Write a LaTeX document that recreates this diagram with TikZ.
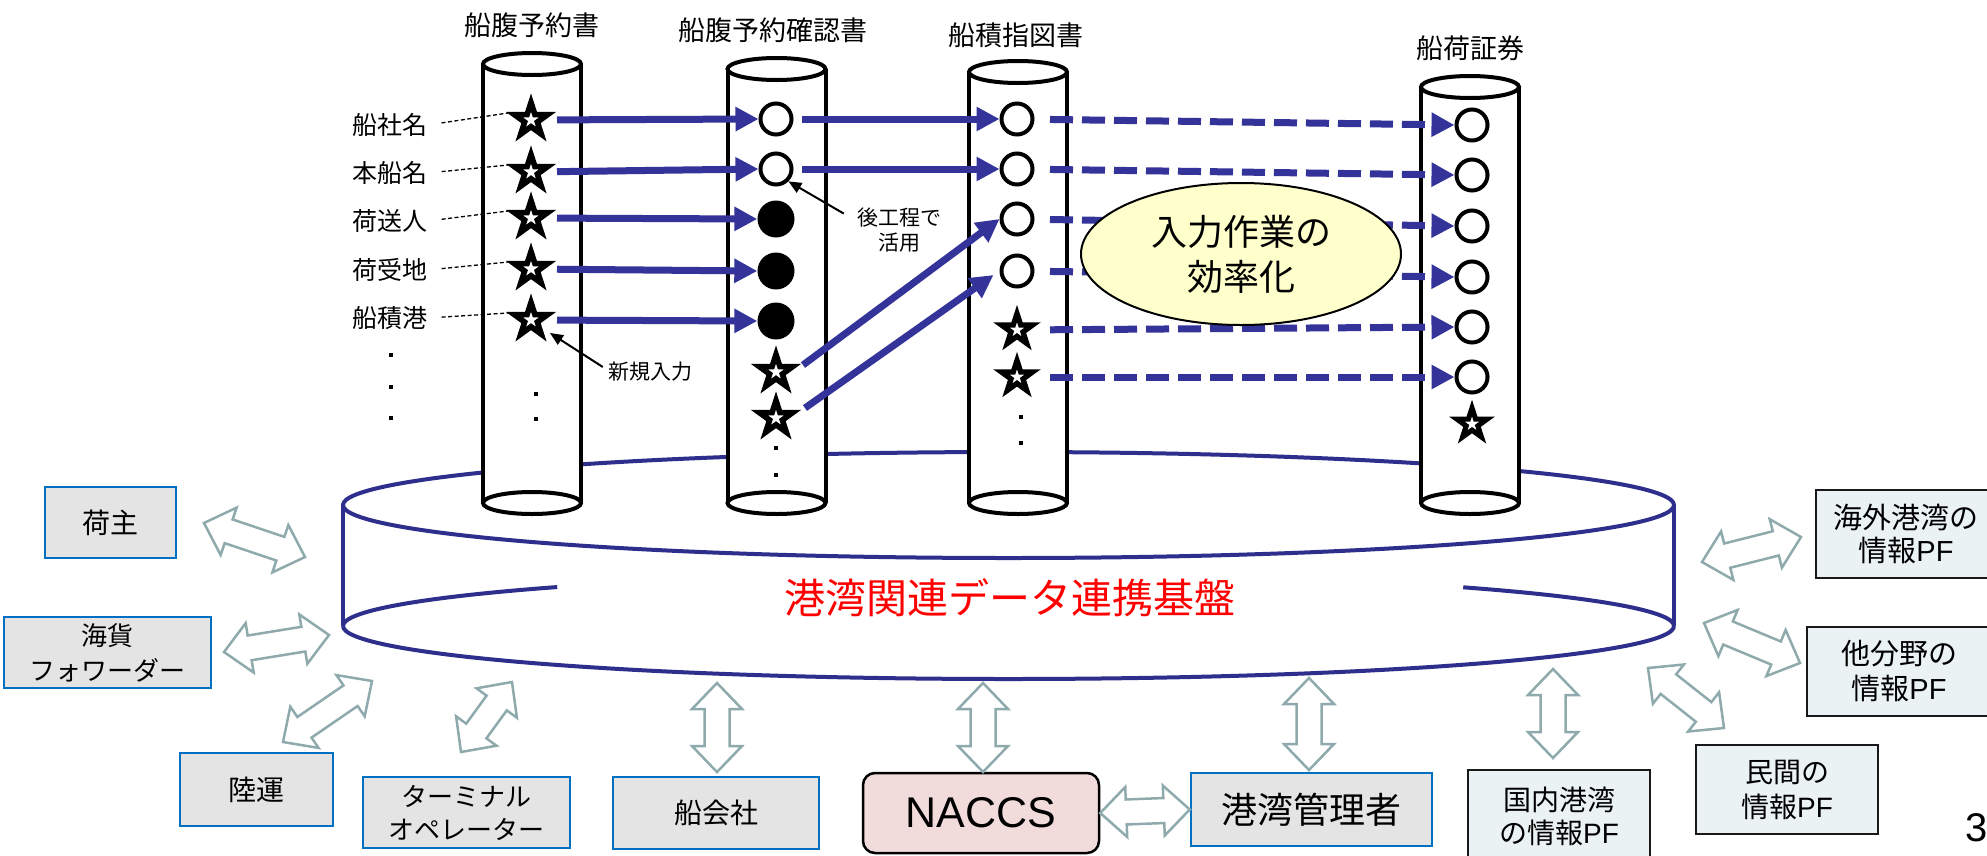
\documentclass[tikz,border=0pt]{standalone}
\usepackage{fontspec}
\setmainfont{Noto Sans CJK JP}
\newfontfamily\lat{Liberation Sans}
\usetikzlibrary{shapes.geometric,arrows.meta,calc}
\definecolor{navy}{RGB}{51,51,153}
\definecolor{plat}{RGB}{46,46,140}
\definecolor{boxgray}{RGB}{228,228,228}
\definecolor{boxblue}{RGB}{0,112,192}
\definecolor{pfbg}{RGB}{235,242,243}
\definecolor{naccsbg}{RGB}{242,220,219}
\definecolor{arrgray}{RGB}{143,170,172}
\definecolor{effbg}{RGB}{255,255,204}
\newcommand{\fs}[2]{\fontsize{#1}{#2}\selectfont}
\newcommand{\tube}[2]{%
  \fill[white] (#1-49,#2) rectangle (#1+49,503);
  \fill[white] (#1,#2) ellipse[x radius=49,y radius=11];
  \fill[white] (#1,503) ellipse[x radius=49,y radius=11];
  \draw[tubeline] (#1-49,#2) -- (#1-49,503) (#1+49,#2) -- (#1+49,503);
  \draw[tubeline] (#1,#2) ellipse[x radius=49,y radius=11];
  \draw[tubeline] (#1,503) ellipse[x radius=49,y radius=11];
}
% star: name, x, y, path radius, line width
\newcommand{\starat}[5]{%
  \node[circle, inner sep=0pt, minimum size=50pt] (#1) at (#2,#3) {};
  \draw[draw=black, fill=white, line width=#5pt, line join=miter, miter limit=10]
    (#2,#3) +(270:#4) -- +(306:0.382*#4) -- +(342:#4) -- +(18:0.382*#4)
    -- +(54:#4) -- +(90:0.382*#4) -- +(126:#4) -- +(162:0.382*#4)
    -- +(198:#4) -- +(234:0.382*#4) -- cycle;
}
\newcommand{\blockarrow}[2]{%
  \coordinate (bp) at ($(#1)!26pt!(#2)$);
  \coordinate (bq) at ($(#2)!26pt!(#1)$);
  \draw[blockarr] (#1) -- ($(bp)!25pt!90:(#2)$) -- ($(bp)!12.5pt!90:(#2)$)
    -- ($(bq)!12.5pt!-90:(#1)$) -- ($(bq)!25pt!-90:(#1)$) -- (#2)
    -- ($(bq)!25pt!90:(#1)$) -- ($(bq)!12.5pt!90:(#1)$)
    -- ($(bp)!12.5pt!-90:(#2)$) -- ($(bp)!25pt!-90:(#2)$) -- cycle;
}
\newcommand{\dotsq}[2]{\fill[black] (#1-2.2,#2-2.2) rectangle (#1+2.2,#2+2.2);}
\begin{document}
\begin{tikzpicture}[x=1pt,y=-1pt,
  tubeline/.style={line width=4pt, draw=black},
  platline/.style={line width=4pt, draw=plat},
  ocirc/.style={circle, draw=black, fill=white, line width=4pt, minimum size=31pt, inner sep=0pt},
  fcirc/.style={circle, fill=black, minimum size=37pt, inner sep=0pt},
  lab/.style={inner sep=0pt, font=\fs{25}{30}},
  ttl/.style={inner sep=0pt, font=\fs{27}{32}},
  barrow/.style={draw=navy, line width=7pt, -{Triangle[length=23pt,width=23pt]}},
  darrow/.style={barrow, dash pattern=on 23pt off 9pt},
  karrow/.style={draw=black, line width=2pt, -{Triangle[length=13pt,width=11pt]}},
  leader/.style={draw=black, line width=1.3pt, dash pattern=on 4pt off 2.5pt},
  gbox/.style={draw=boxblue, fill=boxgray, line width=2.5pt, inner sep=0pt, align=center},
  pfbox/.style={draw=black!90, fill=pfbg, line width=2.5pt, inner sep=0pt, align=center},
  blockarr/.style={draw=arrgray, fill=white, line width=2.5pt, line join=miter},
]
\useasboundingbox (0,0) rectangle (1987,855);
\clip (0,0) rectangle (1987,855);
\fill[white] (0,0) rectangle (1987,855);

% platform
\draw[platline] (1008.5,505) ellipse[x radius=665.5, y radius=53];
\draw[platline] (343,505) -- (343,626) (1674,505) -- (1674,626);
\draw[platline] (343,626) arc[start angle=180, end angle=0, x radius=665.5, y radius=53];
\draw[platline] (343,626) arc[start angle=180, end angle=227.3, x radius=665.5, y radius=53];
\draw[platline] (1674,626) arc[start angle=360, end angle=313.1, x radius=665.5, y radius=53];
\node[font=\fs{41}{49}, text=red, inner sep=0pt] (platlabel) at (1010,598) {港湾関連データ連携基盤};

% tubes
\tube{532}{64}
\tube{776.5}{69}
\tube{1018}{72}
\tube{1470}{87}

% titles
\node[ttl] (t1) at (532,25) {船腹予約書};
\node[ttl] (t2) at (773,30) {船腹予約確認書};
\node[ttl] (t3) at (1016,35) {船積指図書};
\node[ttl] (t4) at (1470,48) {船荷証券};

% row labels
\node[lab] (l1) at (390,125) {船社名};
\node[lab] (l2) at (390,173) {本船名};
\node[lab] (l3) at (390,221) {荷送人};
\node[lab] (l4) at (390,270) {荷受地};
\node[lab] (l5) at (390,318) {船積港};

% column 1
\starat{s1a}{531}{120}{17.5}{5.6}
\starat{s1b}{531}{172}{17.5}{5.6}
\starat{s1c}{531}{218}{17.5}{5.6}
\starat{s1d}{531}{269}{17.5}{5.6}
\starat{s1e}{531}{320}{17.5}{5.6}
% column 2
\node[ocirc] (c2a) at (776,119) {};
\node[ocirc] (c2b) at (776,169) {};
\node[fcirc] (c2c) at (776,219) {};
\node[fcirc] (c2d) at (776,271) {};
\node[fcirc] (c2e) at (776,321) {};
\starat{s2a}{776}{372}{17.5}{5.6}
\starat{s2b}{776}{418}{17.5}{5.6}
% column 3
\node[ocirc] (c3a) at (1017,119) {};
\node[ocirc] (c3b) at (1017,169) {};
\node[ocirc] (c3c) at (1017,219) {};
\node[ocirc] (c3d) at (1017,271) {};
\starat{s3a}{1017}{330}{16.5}{5.3}
\starat{s3b}{1017}{377}{16.5}{5.3}
% column 4
\node[ocirc] (c4a) at (1472,125) {};
\node[ocirc] (c4b) at (1472,175) {};
\node[ocirc] (c4c) at (1472,226) {};
\node[ocirc] (c4d) at (1472,277) {};
\node[ocirc] (c4e) at (1472,327) {};
\node[ocirc] (c4f) at (1472,377) {};
\starat{s4}{1472}{424}{16}{5.1}

% leaders
\draw[leader, shorten <=14pt] (l1.east) -- ($(s1a.center)+(-23,-7)$);
\draw[leader, shorten <=14pt] (l2.east) -- ($(s1b.center)+(-23,-7)$);
\draw[leader, shorten <=14pt] (l3.east) -- ($(s1c.center)+(-23,-7)$);
\draw[leader, shorten <=14pt] (l4.east) -- ($(s1d.center)+(-23,-7)$);
\draw[leader, shorten <=14pt] (l5.east) -- ($(s1e.center)+(-23,-7)$);

% dots
\dotsq{391}{355} \dotsq{391}{387} \dotsq{391}{418}
\dotsq{536}{394} \dotsq{536}{419}
\dotsq{776}{448} \dotsq{776}{475}
\dotsq{1021}{417} \dotsq{1021}{443}

% blue arrows
\draw[barrow, shorten <=26pt] (s1a.center) -- (c2a.west);
\draw[barrow, shorten <=26pt] (s1b.center) -- (c2b.west);
\draw[barrow, shorten <=26pt] (s1c.center) -- (c2c.west);
\draw[barrow, shorten <=26pt] (s1d.center) -- (c2d.west);
\draw[barrow, shorten <=26pt] (s1e.center) -- (c2e.west);
\draw[barrow, shorten <=26pt] (c2a.center) -- (c3a.west);
\draw[barrow, shorten <=26pt] (c2b.center) -- (c3b.west);
\draw[barrow] ($(s2a.center)+(27,-7)$) -- (c3c.west);
\draw[barrow] ($(s2b.center)+(29,-10)$) -- ($(c3d.west)+(-6,4)$);
\draw[darrow, shorten <=33pt] (c3a.center) -- (c4a.west);
\draw[darrow, shorten <=33pt] (c3b.center) -- (c4b.west);
\draw[darrow, shorten <=33pt] (c3c.center) -- (c4c.west);
\draw[darrow, shorten <=33pt] (c3d.center) -- (c4d.west);
\draw[darrow, shorten <=33pt] (s3a.center) -- (c4e.west);
\draw[darrow, shorten <=33pt] (s3b.center) -- (c4f.west);

% ellipse
\node[ellipse, draw=black, line width=2pt, fill=effbg, minimum width=320pt, minimum height=142pt, inner sep=0pt, align=center, font=\fs{36}{45}] (eff) at (1241,254) {入力作業の\\効率化};

% annotations
\node[inner sep=0pt, font=\fs{21}{25}] (n1) at (650,372) {新規入力};
\draw[karrow] ($(n1.west)+(-5,-5)$) -- ($(s1e.center)+(19,13)$);
\node[inner sep=0pt, font=\fs{21}{25}, align=center] (n2) at (899,230) {後工程で\\活用};
\draw[karrow] ($(n2.north west)+(-13,6)$) -- (c2b.south east);

% boxes
\node[gbox, minimum width=131pt, minimum height=71pt, font=\fs{28}{34}] (b1) at (110.5,522.5) {荷主};
\node[gbox, minimum width=207pt, minimum height=71pt, font=\fs{26}{35}] (b2) at (107.5,652.5) {海貨\\フォワーダー};
\node[gbox, minimum width=153pt, minimum height=73pt, font=\fs{28}{34}] (b3) at (256.5,789.5) {陸運};
\node[gbox, minimum width=207pt, minimum height=71pt, font=\fs{26}{33}] (b4) at (466.5,812.5) {ターミナル\\オペレーター};
\node[gbox, minimum width=206pt, minimum height=72pt, font=\fs{28}{34}] (b5) at (716,813) {船会社};
\node[draw=black, fill=naccsbg, line width=2.5pt, rounded corners=12pt, minimum width=236pt, minimum height=80pt, inner sep=0pt, font=\lat\fs{43}{50}] (b6) at (981,813) {NACCS};
\node[gbox, minimum width=241pt, minimum height=73pt, font=\fs{36}{42}] (b7) at (1311.5,809.5) {港湾管理者};
\node[pfbox, minimum width=182pt, minimum height=92pt, font=\fs{28}{33}] (b8) at (1559,816) {国内港湾\\の情報{\lat PF}};
\node[pfbox, minimum width=182pt, minimum height=89pt, font=\fs{28}{35}] (b9) at (1787,789.5) {民間の\\情報{\lat PF}};
\node[pfbox, minimum width=184pt, minimum height=89pt, font=\fs{29}{35}] (b10) at (1899,671.5) {他分野の\\情報{\lat PF}};
\node[pfbox, minimum width=180pt, minimum height=88pt, font=\fs{29}{33}] (b11) at (1906,534) {海外港湾の\\情報{\lat PF}};
\node[inner sep=0pt, font=\lat\fs{40}{46}] (pg) at (1977,828) {3};

% block arrows
\coordinate (x1a) at (204,523);  \coordinate (x1b) at (305,557);  \blockarrow{x1a}{x1b}
\coordinate (x2a) at (224,652);  \coordinate (x2b) at (329,635);  \blockarrow{x2a}{x2b}
\coordinate (x3a) at (283,742);  \coordinate (x3b) at (372,681);  \blockarrow{x3a}{x3b}
\coordinate (x4a) at (461,752);  \coordinate (x4b) at (512,682);  \blockarrow{x4a}{x4b}
\coordinate (x5a) at (717,683);  \coordinate (x5b) at (717,772);  \blockarrow{x5a}{x5b}
\coordinate (x6a) at (983,683);  \coordinate (x6b) at (983,772);  \blockarrow{x6a}{x6b}
\coordinate (x7a) at (1309,678); \coordinate (x7b) at (1309,770); \blockarrow{x7a}{x7b}
\coordinate (x8a) at (1553,669); \coordinate (x8b) at (1553,758); \blockarrow{x8a}{x8b}
\coordinate (x9a) at (1648,668); \coordinate (x9b) at (1724,728); \blockarrow{x9a}{x9b}
\coordinate (x10a) at (1704,623); \coordinate (x10b) at (1800,663); \blockarrow{x10a}{x10b}
\coordinate (x11a) at (1702,562); \coordinate (x11b) at (1801,537); \blockarrow{x11a}{x11b}
\blockarrow{b6.east}{b7.west}
\end{tikzpicture}
\end{document}
